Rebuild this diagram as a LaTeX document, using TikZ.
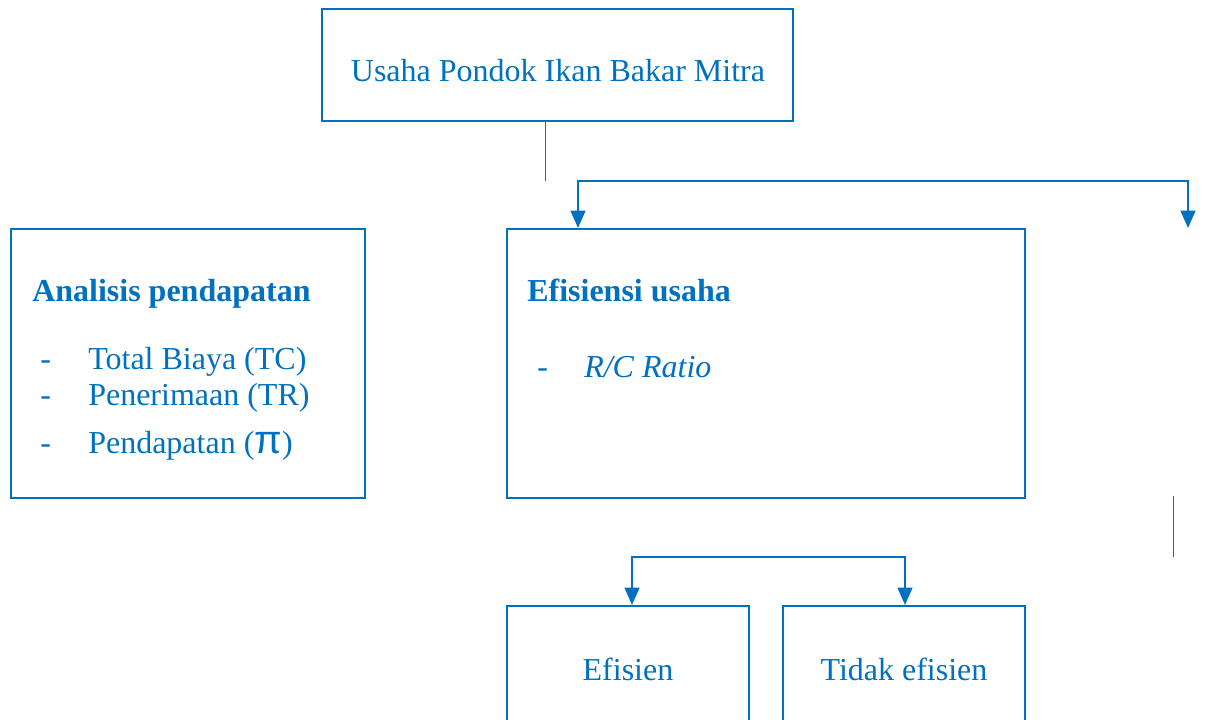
\documentclass[tikz,border=0pt]{standalone}
\usepackage{fontspec}
\setmainfont{Liberation Serif}
\newfontfamily\pifont{Liberation Sans}
\usetikzlibrary{arrows.meta}
\definecolor{wordblue}{HTML}{0070C0}
\begin{document}
\begin{tikzpicture}[x=0.75pt,y=-0.75pt,
    font=\fontsize{24}{28}\selectfont, text=wordblue,
    box/.style={rectangle,draw=wordblue,line width=1.5pt,inner sep=0pt},
    thin line/.style={draw=wordblue,line width=0.75pt},
    arrow line/.style={draw=wordblue,line width=1.6pt,
      {Triangle[width=11pt,length=13pt]}-{Triangle[width=11pt,length=13pt]}},
    item text/.style={anchor=base west,inner sep=0pt} ]
    \clip (0,0) rectangle (1205,719);
    % boxes
    \node at (557.5,65) [box,minimum width=353.25pt,minimum height=84pt] (U) {};
    \node at (188,363.5) [box,minimum width=265.5pt,minimum height=201.75pt] (A) {};
    \node at (766,363.5) [box,minimum width=388.5pt,minimum height=201.75pt] (E) {};
    \node at (628,693) [box,minimum width=181.5pt,minimum height=130.5pt] (F) {};
    \node at (904,693) [box,minimum width=181.5pt,minimum height=130.5pt] (T) {};
    % texts
    \node at (558,71) (Ut) {Usaha Pondok Ikan Bakar Mitra};
    \node at (32,301) [item text,font=\fontsize{24}{28}\selectfont\bfseries] (At) {Analisis pendapatan};
    \node at (40,369) [item text] (a1) {-};
    \node at (88,369) [item text] (a1t) {Total Biaya (TC)};
    \node at (40,405) [item text] (a2) {-};
    \node at (88,405) [item text] (a2t) {Penerimaan (TR)};
    \node at (40,453) [item text] (a3) {-};
    \node at (88,453) [item text] (a3t) {Pendapatan ({\pifont\fontsize{30}{30}\selectfont π})};
    \node at (527,301) [item text,font=\fontsize{24}{28}\selectfont\bfseries] (Et) {Efisiensi usaha};
    \node at (537,377) [item text,font=\fontsize{24}{28}\selectfont\itshape] (e1) {-};
    \node at (584,377) [item text,font=\fontsize{24}{28}\selectfont\itshape] (e1t) {R/C Ratio};
    \node at (628,669) (Ft) {Efisien};
    \node at (904,669) (Tt) {Tidak efisien};
    % connectors
    \coordinate (s1) at (545,181);
    \coordinate (j1) at (578,181);
    \coordinate (j2) at (1188,181);
    \coordinate (j3) at (1188,228);
    \coordinate (r1) at (1173,496);
    \coordinate (r2) at (1173,557);
    \coordinate (k1) at (632,557);
    \coordinate (k2) at (905,557);
    \draw [thin line] (U.south -| s1) -- (s1);
    \draw [arrow line] (E.north -| j1) |- (j2) -- (j3);
    \draw [thin line] (r1) -- (r2);
    \draw [arrow line] (F.north -| k1) |- (k2) -- (T.north -| k2);
\end{tikzpicture}
\end{document}
